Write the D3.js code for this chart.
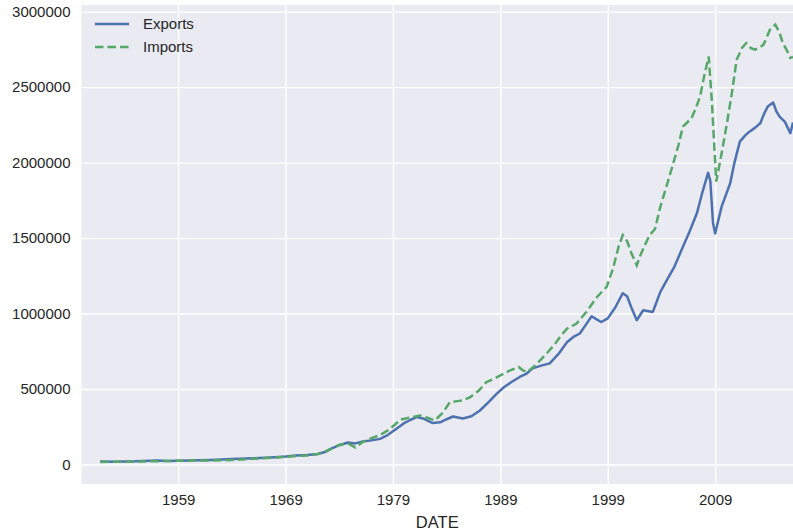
<!DOCTYPE html>
<html>
<head>
<meta charset="utf-8">
<script src="https://cdn.jsdelivr.net/npm/d3@7"></script>
<style>
  html, body { margin: 0; padding: 0; background: #ffffff; }
  svg { display: block; }
  text { font-family: "Liberation Sans", Arial, sans-serif; fill: #262626; }
</style>
</head>
<body>
<svg id="chart" width="793" height="531"></svg>
<script>
// Quarterly trade flows (millions of dollars), dates as decimal years
const exportDates = [1951.75, 1953, 1955, 1957, 1958, 1960, 1962, 1964, 1966, 1968, 1969, 1970, 1971, 1972,
  1972.75, 1973.2, 1974, 1974.8, 1975.5, 1976.2, 1977, 1977.8, 1978.5, 1979.2, 1980, 1980.6, 1981.2, 1981.8,
  1982.7, 1983.4, 1984, 1984.6, 1985.5, 1986.3, 1987.1, 1988, 1988.6, 1989.3, 1990, 1990.8, 1991.4, 1992,
  1992.8, 1993.6, 1994.5, 1995.2, 1995.8, 1996.4, 1997, 1997.5, 1998, 1998.4, 1999, 1999.7, 2000.4, 2000.8,
  2001.2, 2001.7, 2002.3, 2003.2, 2003.9, 2004.5, 2005.2, 2006.0, 2006.6, 2007.3, 2007.8, 2008.35, 2008.55,
  2008.8, 2009.0, 2009.6, 2010.4, 2010.8, 2011.3, 2011.8, 2012.2, 2012.7, 2013.2, 2013.6, 2013.9, 2014.4,
  2014.7, 2015.0, 2015.5, 2016.0, 2016.25];
const exportValues = [20000, 19000, 21000, 27000, 24000, 27000, 30000, 36000, 41000, 48000, 53000, 60000, 63000, 70000,
  85000, 104000, 128000, 146000, 140000, 152000, 160000, 170000, 195000, 230000, 272000, 295000, 314000, 305000,
  275000, 280000, 300000, 318000, 305000, 320000, 358000, 420000, 465000, 510000, 545000, 580000, 600000, 637000,
  655000, 670000, 740000, 810000, 845000, 868000, 930000, 982000, 960000, 944000, 968000, 1040000, 1135000, 1115000,
  1040000, 956000, 1022000, 1011000, 1144000, 1221000, 1310000, 1442000, 1540000, 1664000, 1800000, 1933000, 1880000,
  1600000, 1531000, 1708000, 1863000, 2000000, 2139000, 2180000, 2205000, 2230000, 2261000, 2330000, 2371000, 2398000,
  2340000, 2305000, 2270000, 2195000, 2265000];

const importDates = [1951.75, 1953, 1955, 1957, 1959, 1962, 1964, 1966, 1968, 1969, 1970, 1971, 1972, 1973,
  1974, 1974.8, 1975.5, 1976.2, 1977, 1977.8, 1978.5, 1979.2, 1979.7, 1980.5, 1981.5, 1982.2, 1982.9, 1983.6,
  1984.3, 1985, 1985.5, 1986.2, 1987, 1987.7, 1988.3, 1989, 1989.8, 1990.7, 1991.1, 1991.5, 1992.3, 1993.3,
  1994, 1994.6, 1995.2, 1996.1, 1997, 1998, 1998.9, 1999.5, 2000, 2000.4, 2000.8, 2001.2, 2001.7, 2002.0,
  2002.5, 2002.9, 2003.4, 2003.9, 2004.5, 2005.1, 2005.6, 2006.0, 2006.8, 2007.2, 2007.6, 2008.0, 2008.4,
  2008.7, 2009.1, 2009.6, 2010.1, 2010.6, 2011.0, 2011.5, 2011.9, 2012.3, 2012.7, 2013.1, 2013.5, 2014.1,
  2014.6, 2015.0, 2015.3, 2015.7, 2016.0, 2016.25];
const importValues = [17000, 18000, 19000, 22000, 25000, 27000, 30000, 38000, 46000, 51000, 56000, 60000, 70000, 95000,
  130000, 140000, 113000, 150000, 175000, 195000, 225000, 265000, 298000, 310000, 325000, 310000, 292000, 340000,
  413000, 420000, 425000, 447000, 490000, 546000, 565000, 590000, 620000, 646000, 624000, 613000, 660000, 735000,
  790000, 850000, 900000, 934000, 1010000, 1110000, 1177000, 1300000, 1440000, 1520000, 1480000, 1400000, 1320000, 1380000,
  1460000, 1520000, 1560000, 1708000, 1850000, 1996000, 2120000, 2239000, 2294000, 2360000, 2438000, 2580000, 2703000,
  2400000, 1874000, 2060000, 2261000, 2480000, 2681000, 2760000, 2792000, 2760000, 2748000, 2760000, 2781000, 2880000,
  2914000, 2860000, 2792000, 2740000, 2693000, 2700000];

const seriesNames = ["Exports", "Imports"];
const xTickYears = [1959, 1969, 1979, 1989, 1999, 2009];
const yTickValues = [0, 500000, 1000000, 1500000, 2000000, 2500000, 3000000];
const xLabel = "DATE";

// decimal year -> Date (UTC)
function toDate(y) {
  const yr = Math.floor(y);
  const start = Date.UTC(yr, 0, 1), end = Date.UTC(yr + 1, 0, 1);
  return new Date(start + (y - yr) * (end - start));
}

const svg = d3.select("#chart");
const W = 793, H = 531;
const margin = { left: 81.5, right: 0, top: 5, bottom: 47 };
const plotW = W - margin.left - margin.right;
const plotH = H - margin.top - margin.bottom;

const x = d3.scaleUtc().domain([toDate(1950.0), toDate(2016.25)]).range([0, plotW]);
const y = d3.scaleLinear().domain([-129000, 3044000]).range([plotH, 0]);

const g = svg.append("g").attr("transform", `translate(${margin.left},${margin.top})`);

g.append("rect").attr("width", plotW).attr("height", plotH).attr("fill", "#EAEAF2");

g.append("clipPath").attr("id", "plotclip")
  .append("rect").attr("width", plotW).attr("height", plotH);

// grid lines + tick labels via axes
const xAxis = d3.axisBottom(x)
  .tickValues(xTickYears.map(v => toDate(v)))
  .tickFormat(d3.utcFormat("%Y"))
  .tickSize(-plotH).tickPadding(10);
const yAxis = d3.axisLeft(y)
  .tickValues(yTickValues)
  .tickFormat(d3.format("d"))
  .tickSize(-plotW).tickPadding(11);

const gx = g.append("g").attr("transform", `translate(0,${plotH})`).call(xAxis);
const gy = g.append("g").call(yAxis);
[gx, gy].forEach(a => {
  a.select(".domain").remove();
  a.selectAll(".tick line").attr("stroke", "#ffffff").attr("stroke-width", 1.4);
  a.selectAll(".tick text").attr("font-size", 15)
    .attr("font-family", "'Liberation Sans', Arial, sans-serif").attr("fill", "#262626");
});

// axis label
svg.append("text")
  .attr("x", margin.left + plotW / 2).attr("y", 527.5)
  .attr("text-anchor", "middle").attr("font-size", 16.5)
  .text(xLabel);

const line = d3.line().x(d => x(d[0])).y(d => y(d[1]));
const exportsData = exportDates.map((d, i) => [toDate(d), exportValues[i]]);
const importsData = importDates.map((d, i) => [toDate(d), importValues[i]]);

const lines = g.append("g").attr("clip-path", "url(#plotclip)");
lines.append("path").datum(exportsData)
  .attr("d", line).attr("fill", "none")
  .attr("stroke", "#4C72B0").attr("stroke-width", 2.5)
  .attr("stroke-linejoin", "round");
lines.append("path").datum(importsData)
  .attr("d", line).attr("fill", "none")
  .attr("stroke", "#55A868").attr("stroke-width", 2.5)
  .attr("stroke-dasharray", "8.5,4");

// legend
const legend = svg.append("g");
const styles = [
  { color: "#4C72B0", dash: null },
  { color: "#55A868", dash: "8.5,4" }
];
seriesNames.forEach((name, i) => {
  const ly = 24 + i * 23;
  const l = legend.append("line")
    .attr("x1", 95).attr("x2", 129).attr("y1", ly).attr("y2", ly)
    .attr("stroke", styles[i].color).attr("stroke-width", 2.5);
  if (styles[i].dash) l.attr("stroke-dasharray", styles[i].dash);
  legend.append("text").attr("x", 143).attr("y", ly + 5)
    .attr("font-size", 15).text(name);
});
</script>
</body>
</html>
